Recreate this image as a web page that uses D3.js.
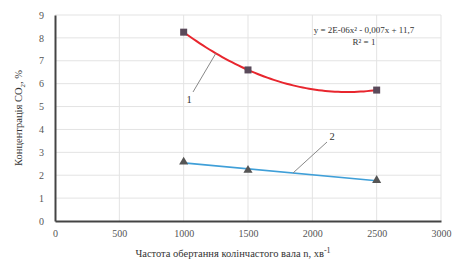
<!DOCTYPE html>
<html>
<head>
<meta charset="utf-8">
<script src="https://cdn.jsdelivr.net/npm/d3@7"></script>
<style>
  body { margin: 0; background: #fff; }
</style>
</head>
<body>
<div id="chart"></div>
<script>
// chart data
const rpm = [1000, 1500, 2500];
const co2Series1 = [8.25, 6.6, 5.72];
const co2Series2 = [2.58, 2.22, 1.78];
const xTicks = [0, 500, 1000, 1500, 2000, 2500, 3000];
const yTicks = [0, 1, 2, 3, 4, 5, 6, 7, 8, 9];
const seriesLabels = ["1", "2"];
const equationText = ["y = 2E-06x² - 0,007x + 11,7", "R² = 1"];

const W = 455, H = 262;
const margin = {top: 15, right: 14, bottom: 41, left: 55};
const FONT = "'Liberation Serif', 'Times New Roman', serif";

const svg = d3.select("#chart").append("svg")
    .attr("width", W)
    .attr("height", H)
    .attr("font-family", FONT);

const x = d3.scaleLinear().domain([0, 3000]).range([margin.left, W - margin.right]);
const y = d3.scaleLinear().domain([0, 9]).range([H - margin.bottom, margin.top]);

// gridlines
svg.append("g")
    .selectAll("line")
    .data(yTicks.slice(1))
    .enter().append("line")
    .attr("x1", x(0)).attr("x2", x(3000))
    .attr("y1", d => y(d)).attr("y2", d => y(d))
    .attr("stroke", "#e3e3e3").attr("stroke-width", 1);

svg.append("g")
    .selectAll("line")
    .data(xTicks.slice(1))
    .enter().append("line")
    .attr("x1", d => x(d)).attr("x2", d => x(d))
    .attr("y1", y(0)).attr("y2", y(9))
    .attr("stroke", "#e3e3e3").attr("stroke-width", 1);

// axes
const xAxis = svg.append("g")
    .attr("transform", "translate(0," + y(0) + ")")
    .call(d3.axisBottom(x).tickValues(xTicks).tickFormat(d3.format("d")).tickSize(0).tickPadding(9));
xAxis.attr("font-family", FONT).attr("font-size", 10);
xAxis.select(".domain").attr("stroke", "#444").attr("stroke-width", 2);
xAxis.selectAll("text").attr("fill", "#555");

const yAxis = svg.append("g")
    .attr("transform", "translate(" + x(0) + ",0)")
    .call(d3.axisLeft(y).tickValues(yTicks).tickSize(0).tickPadding(11));
yAxis.attr("font-family", FONT).attr("font-size", 10);
yAxis.select(".domain").attr("stroke", "#444").attr("stroke-width", 2);
yAxis.selectAll("text").attr("fill", "#555");

// axis titles
svg.append("text")
    .attr("x", 233)
    .attr("y", H - 5)
    .attr("text-anchor", "middle")
    .attr("font-size", 10.5)
    .attr("fill", "#333")
    .html("Частота обертання колінчастого вала n, хв<tspan dy='-4' font-size='8'>-1</tspan>");

svg.append("text")
    .attr("transform", "translate(22,118) rotate(-90)")
    .attr("text-anchor", "middle")
    .attr("font-size", 10.5)
    .attr("fill", "#333")
    .html("Концентрація CO<tspan dy='3' font-size='7'>2</tspan><tspan dy='-3'>, %</tspan>");

// series 1: polynomial (order 2) trendline fitted through the points
const pts1 = rpm.map((r, i) => [r, co2Series1[i]]);
function quadFit(pts) {
    // exact quadratic through three points (Newton divided differences)
    const [p0, p1, p2] = pts;
    const d01 = (p1[1] - p0[1]) / (p1[0] - p0[0]);
    const d12 = (p2[1] - p1[1]) / (p2[0] - p1[0]);
    const d012 = (d12 - d01) / (p2[0] - p0[0]);
    return t => p0[1] + d01 * (t - p0[0]) + d012 * (t - p0[0]) * (t - p1[0]);
}
const f1 = quadFit(pts1);
const curve1 = d3.range(rpm[0], rpm[2] + 1, 25).map(t => [t, f1(t)]);

const line = d3.line().x(d => x(d[0])).y(d => y(d[1]));

svg.append("path")
    .datum(curve1)
    .attr("d", line)
    .attr("fill", "none")
    .attr("stroke", "#e8262e")
    .attr("stroke-width", 2);

// series 2: linear trendline
const pts2 = rpm.map((r, i) => [r, co2Series2[i]]);
const mx = d3.mean(pts2, d => d[0]), my = d3.mean(pts2, d => d[1]);
const slope = d3.sum(pts2, d => (d[0] - mx) * (d[1] - my)) / d3.sum(pts2, d => (d[0] - mx) ** 2);
const icpt = my - slope * mx;
svg.append("path")
    .datum([rpm[0], rpm[2]].map(t => [t, icpt + slope * t]))
    .attr("d", line)
    .attr("fill", "none")
    .attr("stroke", "#3f9fd8")
    .attr("stroke-width", 1.6);

// markers
svg.selectAll("rect.m1")
    .data(pts1)
    .enter().append("rect")
    .attr("x", d => x(d[0]) - 3.5)
    .attr("y", d => y(d[1]) - 3.5)
    .attr("width", 7).attr("height", 7)
    .attr("fill", "#5a4a5a");

svg.selectAll("path.m2")
    .data(pts2)
    .enter().append("path")
    .attr("d", d3.symbol().type(d3.symbolTriangle).size(36))
    .attr("transform", d => "translate(" + x(d[0]) + "," + y(d[1]) + ")")
    .attr("fill", "#555");

// series labels with leader lines
svg.append("line")
    .attr("x1", 193).attr("y1", 92).attr("x2", x(1250)).attr("y2", y(f1(1250)))
    .attr("stroke", "#888").attr("stroke-width", 1);
svg.append("text").attr("x", 189).attr("y", 103)
    .attr("text-anchor", "middle").attr("font-size", 10.5).attr("fill", "#333").text(seriesLabels[0]);

svg.append("line")
    .attr("x1", 327).attr("y1", 142).attr("x2", x(1850)).attr("y2", y(icpt + slope * 1850))
    .attr("stroke", "#888").attr("stroke-width", 1);
svg.append("text").attr("x", 332).attr("y", 140)
    .attr("text-anchor", "middle").attr("font-size", 10.5).attr("fill", "#333").text(seriesLabels[1]);

// trendline equation
svg.selectAll("text.eq")
    .data(equationText)
    .enter().append("text")
    .attr("x", 364)
    .attr("y", (d, i) => 33 + i * 12)
    .attr("text-anchor", "middle")
    .attr("font-size", 9)
    .attr("fill", "#333")
    .text(d => d);
</script>
</body>
</html>
